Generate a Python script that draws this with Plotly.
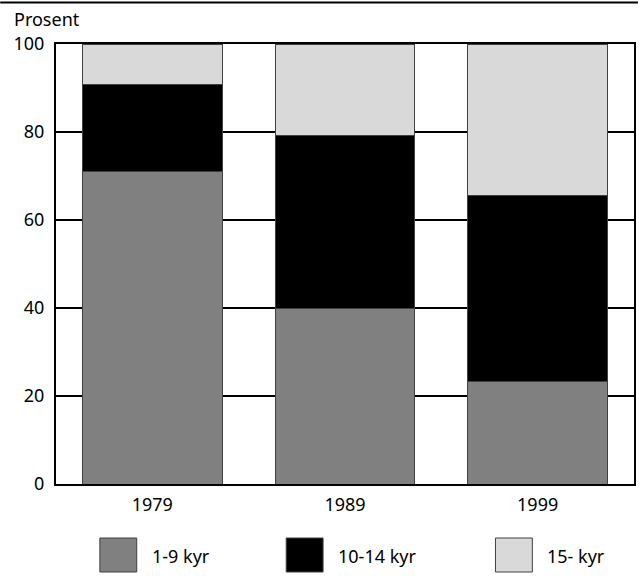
import plotly.graph_objects as go

years = ["1979", "1989", "1999"]
series_names = ["1-9 kyr", "10-14 kyr", "15- kyr"]
v_1_9 = [71.0, 40.0, 23.3]
v_10_14 = [19.7, 39.2, 42.3]
v_15 = [9.3, 20.8, 34.4]
colors = ["#808080", "#000000", "#d9d9d9"]
y_ticks = [0, 20, 40, 60, 80, 100]

W, H = 640, 576
L, R, T, B = 56, 636, 44, 484
pw, ph = R - L, B - T

def px(x):
    return (x - L) / pw

def py(y):
    return (B - y) / ph

fig = go.Figure()
for name, vals, col in zip(series_names, [v_1_9, v_10_14, v_15], colors):
    fig.add_trace(go.Bar(
        x=years, y=vals, name=name, width=0.724,
        marker=dict(color=col, line=dict(color="#404040", width=1)),
        showlegend=False, hoverinfo="skip",
    ))

font = dict(family="Noto Sans, Open Sans, sans-serif", size=18, color="#000")

fig.update_layout(
    width=W, height=H, barmode="stack",
    margin=dict(l=L, r=W - R, t=T, b=H - B),
    plot_bgcolor="white", paper_bgcolor="white",
    font=font,
    xaxis=dict(range=[-0.5, 2.5], showline=True, linecolor="black", linewidth=2,
               mirror=True, showgrid=False, ticks="", tickfont=font, ticklabelstandoff=3),
    yaxis=dict(range=[0, 100], tickvals=y_ticks, showline=True, linecolor="black",
               linewidth=2, mirror=True, showgrid=True, gridcolor="black", gridwidth=1.5,
               ticks="", tickfont=font, zeroline=False, ticklabelstandoff=6),
)

shapes = []
annotations = []
# top rule
shapes.append(dict(type="line", xref="paper", yref="paper", x0=px(0), x1=px(640),
                   y0=py(2.5), y1=py(2.5), line=dict(color="black", width=2)))
annotations.append(dict(text="Prosent", xref="paper", yref="paper", x=px(12), y=py(19),
                        xanchor="left", yanchor="middle", showarrow=False, font=font))

legend_boxes = [(100, 150), (287, 337), (497, 547)]
for (bx, tx), name, col in zip(legend_boxes, series_names, colors):
    shapes.append(dict(type="rect", xref="paper", yref="paper",
                       x0=px(bx), x1=px(bx + 37), y0=py(572), y1=py(538),
                       fillcolor=col, line=dict(color="#404040", width=1)))
    annotations.append(dict(text=name, xref="paper", yref="paper", x=px(tx), y=py(556),
                            xanchor="left", yanchor="middle", showarrow=False, font=font))

fig.update_layout(shapes=shapes, annotations=annotations)
fig.write_html("out.html", config={"displayModeBar": False},
               post_script="document.body.style.margin='0';")
